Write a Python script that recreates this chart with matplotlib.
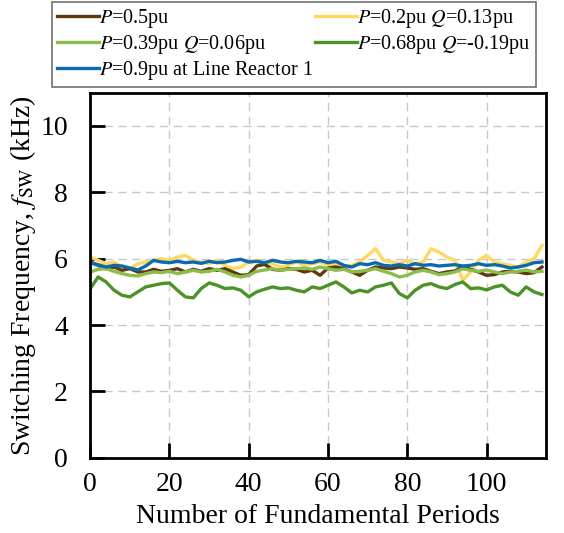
import numpy as np
import matplotlib
matplotlib.use('Agg')
import matplotlib.pyplot as plt

plt.rcParams['font.family'] = ['Liberation Serif', 'DejaVu Serif']
plt.rcParams['mathtext.fontset'] = 'stix'

# fundamental period index (every 2nd period)
periods = np.arange(0, 116, 2)

# switching frequency in kHz
f_p05 = [5.9, 5.8, 5.7, 5.75, 5.65, 5.7, 5.6, 5.6, 5.68, 5.62,
         5.65, 5.7, 5.6, 5.68, 5.62, 5.7, 5.65, 5.7, 5.6, 5.5,
         5.52, 5.78, 5.83, 5.68, 5.65, 5.7, 5.68, 5.6, 5.65, 5.5,
         5.72, 5.75, 5.7, 5.6, 5.5, 5.65, 5.75, 5.72, 5.7, 5.75,
         5.72, 5.68, 5.7, 5.62, 5.55, 5.6, 5.63, 5.75, 5.68, 5.6,
         5.5, 5.52, 5.6, 5.62, 5.6, 5.55, 5.58, 5.75]
f_p02 = [6.05, 5.95, 5.85, 5.9, 5.75, 5.7, 5.85, 5.9, 5.95, 6.0,
         5.95, 6.05, 6.1, 5.95, 5.9, 5.85, 5.95, 5.8, 5.7, 5.75,
         5.9, 5.95, 5.8, 5.85, 5.75, 5.8, 5.9, 5.8, 5.85, 5.9,
         5.8, 5.85, 5.75, 5.8, 5.9, 6.1, 6.3, 5.95, 5.9, 5.85,
         5.95, 5.85, 5.9, 6.3, 6.2, 6.05, 5.95, 5.35, 5.6, 5.95,
         6.1, 5.9, 5.85, 5.8, 5.75, 5.9, 6.0, 6.4]
f_p039 = [5.6, 5.68, 5.7, 5.62, 5.55, 5.5, 5.48, 5.55, 5.6, 5.58,
          5.62, 5.55, 5.6, 5.65, 5.6, 5.62, 5.68, 5.6, 5.5, 5.45,
          5.5, 5.62, 5.66, 5.7, 5.65, 5.68, 5.7, 5.72, 5.68, 5.75,
          5.7, 5.65, 5.68, 5.6, 5.62, 5.65, 5.7, 5.62, 5.55, 5.45,
          5.5, 5.6, 5.65, 5.6, 5.52, 5.55, 5.6, 5.7, 5.65, 5.62,
          5.66, 5.6, 5.55, 5.6, 5.62, 5.66, 5.6, 5.62]
f_p068 = [5.1, 5.45, 5.3, 5.05, 4.9, 4.85, 5.0, 5.15, 5.2, 5.25,
          5.27, 5.05, 4.85, 4.82, 5.1, 5.27, 5.2, 5.1, 5.12, 5.05,
          4.85, 5.0, 5.08, 5.15, 5.1, 5.12, 5.05, 5.0, 5.15, 5.1,
          5.2, 5.3, 5.15, 4.97, 5.05, 5.0, 5.15, 5.2, 5.27, 4.95,
          4.82, 5.05, 5.2, 5.25, 5.15, 5.1, 5.22, 5.3, 5.1, 5.12,
          5.06, 5.15, 5.2, 5.0, 4.9, 5.15, 5.0, 4.92]
f_p09 = [5.87, 5.82, 5.75, 5.8, 5.78, 5.72, 5.66, 5.78, 5.95, 5.9,
         5.88, 5.92, 5.88, 5.9, 5.86, 5.92, 5.88, 5.9, 5.95, 5.98,
         5.9, 5.92, 5.88, 5.95, 5.9, 5.88, 5.92, 5.9, 5.88, 5.95,
         5.88, 5.92, 5.8, 5.75, 5.85, 5.82, 5.88, 5.8, 5.78, 5.82,
         5.78, 5.85, 5.8, 5.82, 5.78, 5.8, 5.82, 5.78, 5.8, 5.85,
         5.8, 5.82, 5.78, 5.72, 5.75, 5.8, 5.88, 5.9]

labels = ['$P$=0.5pu', '$P$=0.2pu $Q$=0.13pu', '$P$=0.39pu $Q$=0.06pu',
          '$P$=0.68pu $Q$=-0.19pu', '$P$=0.9pu at Line Reactor 1']
colors = ['#5c3b0c', '#ffd85c', '#8cbd4a', '#4a9426', '#0a6aad']


fig = plt.figure(figsize=(5.64, 5.33), dpi=100)
ax = fig.add_axes([0.160, 0.141, 0.808, 0.685])

h_yel, = ax.plot(periods, f_p02, color=colors[1], lw=2.4)
h_brn, = ax.plot(periods, f_p05, color=colors[0], lw=2.4)
h_lgr, = ax.plot(periods, f_p039, color=colors[2], lw=2.4)
h_dgr, = ax.plot(periods, f_p068, color=colors[3], lw=2.4)
h_blu, = ax.plot(periods, f_p09, color=colors[4], lw=2.4)

ax.set_xlim(0, 115)
ax.set_ylim(0, 11)
ax.set_xticks([0, 20, 40, 60, 80, 100])
ax.set_yticks([0, 2, 4, 6, 8, 10])
ax.grid(True, color='#c8c8c8', linestyle=(0, (6, 4)), linewidth=1)
ax.set_axisbelow(True)
ax.tick_params(direction='in', length=11, width=2, labelsize=20)
ax.tick_params(axis='x', pad=10)
ax.tick_params(axis='y', pad=16)
for sp in ax.spines.values():
    sp.set_linewidth(2)

ax.set_xlabel('Number of Fundamental Periods', fontsize=20, labelpad=5)
ax.set_ylabel('Switching Frequency, $f_{\\mathrm{SW}}$ (kHz)', fontsize=20, labelpad=2)

# column-major fill -> rows: brown/yellow, light/dark green, blue
handles = [h_brn, h_lgr, h_blu, h_yel, h_dgr]
leg_labels = [labels[0], labels[2], labels[4], labels[1], labels[3]]
leg = fig.legend(handles, leg_labels, ncol=2, loc='upper left',
                 bbox_to_anchor=(0.092, 0.996),
                 fontsize=14.5, frameon=True, fancybox=False, framealpha=1,
                 edgecolor='#707070', handlelength=2.1, handletextpad=0.0,
                 borderaxespad=0, borderpad=0.25, labelspacing=0.15,
                 columnspacing=0.1)
leg.get_frame().set_linewidth(1.2)

fig.savefig('out.png', dpi=100)
